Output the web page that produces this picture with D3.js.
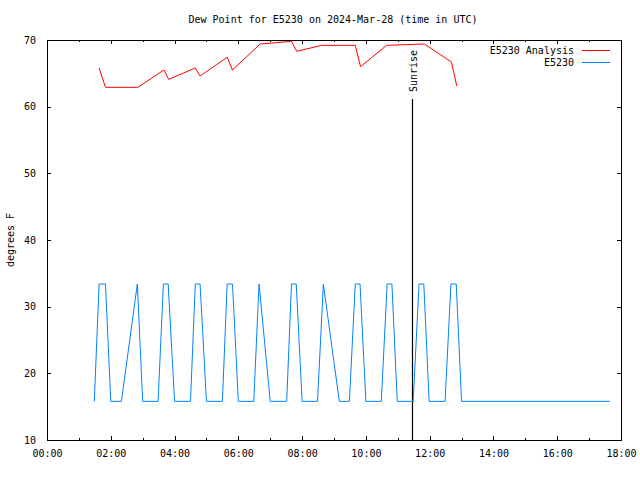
<!DOCTYPE html>
<html>
<head>
<meta charset="utf-8">
<script src="https://cdn.jsdelivr.net/npm/d3@7"></script>
<style>
  html, body { margin: 0; padding: 0; background: #fff; }
  svg { display: block; }
  text { font-family: "DejaVu Sans Mono", monospace; font-size: 10px; fill: #000; }
</style>
</head>
<body>
<script>
// ---- data ----
const titleText = "Dew Point for E5230 on 2024-Mar-28 (time in UTC)";
const yLabel = "degrees F";
const xTickLabels = ["00:00","02:00","04:00","06:00","08:00","10:00","12:00","14:00","16:00","18:00"];
const yTicks = [10, 20, 30, 40, 50, 60, 70];

const analysisTimes = ["01:38","01:50","02:51","03:40","03:49","04:39","04:48","05:39","05:49","06:41","07:40","07:50","08:37","09:40","09:50","10:39","11:50","12:41","12:51"];
const analysisValues = [65.8,62.9,62.9,65.5,64.1,65.8,64.6,67.4,65.5,69.4,69.8,68.3,69.2,69.2,66.0,69.2,69.4,66.7,63.1];

const obsTimes = ["01:29","01:38","01:50","02:00","02:20","02:50","03:00","03:29","03:39","03:48","04:00","04:30","04:39","04:48","05:00","05:30","05:39","05:49","06:00","06:29","06:39","07:00","07:31","07:40","07:49","08:00","08:29","08:40","09:10","09:29","09:40","09:49","10:00","10:29","10:40","10:49","10:59","11:29","11:40","11:49","11:59","12:29","12:40","12:50","13:00","17:39"];
const obsValues = [15.8,33.4,33.4,15.8,15.8,33.4,15.8,15.8,33.4,33.4,15.8,15.8,33.4,33.4,15.8,15.8,33.4,33.4,15.8,15.8,33.4,15.8,15.8,33.4,33.4,15.8,15.8,33.4,15.8,15.8,33.4,33.4,15.8,15.8,33.4,33.4,15.8,15.8,33.4,33.4,15.8,15.8,33.4,33.4,15.8,15.8];

const sunriseTime = "11:27";
const seriesNames = ["E5230 Analysis", "E5230"];
const seriesColors = ["#ff0000", "#0080ff"];

// ---- helpers ----
const toH = s => { const [h, m] = s.split(":").map(Number); return h + m / 60; };

const W = 640, H = 480;
const m = { left: 47, right: 19, top: 40, bottom: 40 };
const pw = W - m.left - m.right, ph = H - m.top - m.bottom;

const svg = d3.select("body").append("svg").attr("width", W).attr("height", H);
svg.append("rect").attr("width", W).attr("height", H).attr("fill", "#fff");

const x = d3.scaleLinear().domain([0, 18]).range([m.left, m.left + pw]);
const y = d3.scaleLinear().domain([10, 70]).range([m.top + ph, m.top]);

// title
svg.append("text").attr("x", 333).attr("y", 23).attr("text-anchor", "middle").text(titleText);

// y label
svg.append("text").attr("transform", `translate(14,${m.top + ph / 2}) rotate(-90)`)
  .attr("text-anchor", "middle").text(yLabel);

// axes with inward ticks
const majorX = d3.range(0, 19, 2), minorX = d3.range(1, 18, 2);
const fmtX = d => xTickLabels[majorX.indexOf(d)];

const gB = svg.append("g").attr("transform", `translate(0,${m.top + ph})`)
  .call(d3.axisBottom(x).tickValues(majorX).tickFormat(fmtX).tickSizeInner(-4).tickSizeOuter(0).tickPadding(10));
const gBm = svg.append("g").attr("transform", `translate(0,${m.top + ph})`)
  .call(d3.axisBottom(x).tickValues(minorX).tickFormat("").tickSizeInner(-2).tickSizeOuter(0));
const gT = svg.append("g").attr("transform", `translate(0,${m.top})`)
  .call(d3.axisTop(x).tickValues(majorX).tickFormat("").tickSizeInner(-4).tickSizeOuter(0));
const gTm = svg.append("g").attr("transform", `translate(0,${m.top})`)
  .call(d3.axisTop(x).tickValues(minorX).tickFormat("").tickSizeInner(-2).tickSizeOuter(0));
const gL = svg.append("g").attr("transform", `translate(${m.left},0)`)
  .call(d3.axisLeft(y).tickValues(yTicks).tickFormat(d3.format("d")).tickSizeInner(-4).tickSizeOuter(0).tickPadding(11));
const gR = svg.append("g").attr("transform", `translate(${m.left + pw},0)`)
  .call(d3.axisRight(y).tickValues(yTicks).tickFormat("").tickSizeInner(-4).tickSizeOuter(0));

[gB, gBm, gT, gTm, gL, gR].forEach(g => {
  g.select(".domain").remove();
  g.selectAll("line").attr("stroke", "#000").attr("shape-rendering", "crispEdges");
  g.selectAll("text").attr("font-family", "DejaVu Sans Mono, monospace").attr("font-size", 10).attr("fill", "#000");
});
gB.selectAll("text").attr("dy", "0.71em");

// border
svg.append("rect").attr("x", m.left + 0.5).attr("y", m.top + 0.5).attr("width", pw).attr("height", ph)
  .attr("fill", "none").attr("stroke", "#000").attr("shape-rendering", "crispEdges");

// sunrise
const sx = Math.round(x(toH(sunriseTime))) + 0.5;
svg.append("line").attr("x1", sx).attr("x2", sx).attr("y1", 99).attr("y2", m.top + ph)
  .attr("stroke", "#000").attr("stroke-width", 1.2);
svg.append("text").attr("transform", `translate(${sx + 4},92) rotate(-90)`)
  .attr("text-anchor", "start").text("Sunrise");

// lines
const line = d3.line().x(d => x(d[0])).y(d => y(d[1]));
const aData = analysisTimes.map((t, i) => [toH(t), analysisValues[i]]);
const oData = obsTimes.map((t, i) => [toH(t), obsValues[i]]);

svg.append("path").datum(oData).attr("d", line).attr("fill", "none")
  .attr("stroke", seriesColors[1]).attr("stroke-width", 1);
svg.append("path").datum(aData).attr("d", line).attr("fill", "none")
  .attr("stroke", seriesColors[0]).attr("stroke-width", 1);

// legend
seriesNames.forEach((n, i) => {
  const ly = 50 + i * 12;
  svg.append("text").attr("x", 574).attr("y", ly).attr("dy", "0.35em").attr("text-anchor", "end").text(n);
  svg.append("line").attr("x1", 582).attr("x2", 610).attr("y1", ly + 0.5).attr("y2", ly + 0.5)
    .attr("stroke", seriesColors[i]).attr("stroke-width", 1);
});
</script>
</body>
</html>
